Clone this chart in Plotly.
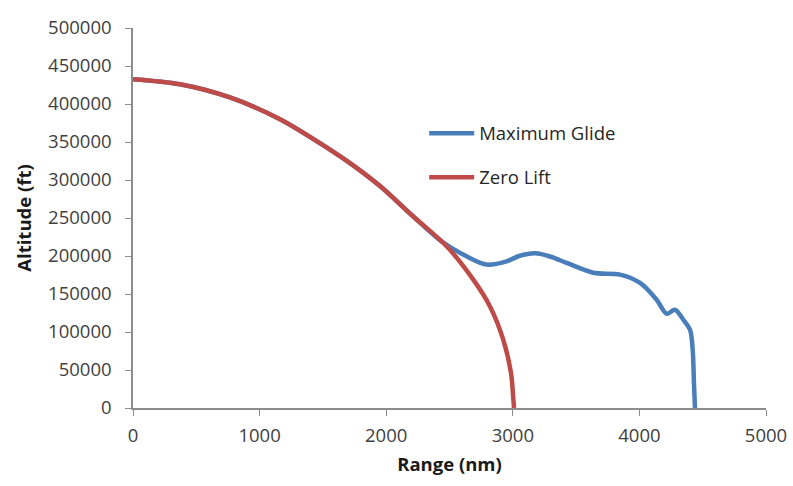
import plotly.graph_objects as go

# Zero-lift trajectory: range (nm) vs altitude (ft)
zero_lift_range = [0, 371, 766, 1161, 1556, 1750, 1951, 2214, 2477, 2688, 2820, 2925, 2986, 3004, 3010]
zero_lift_alt = [432700, 426000, 408600, 380000, 340000, 318000, 292000, 252000, 212800, 168900, 133600, 89700, 45800, 12000, 0]

# Maximum-glide trajectory
max_glide_range = [0, 371, 766, 1161, 1556, 1750, 1951, 2214, 2440, 2635, 2793, 2951, 3050, 3180, 3300, 3425, 3636, 3847, 4005, 4136, 4215, 4281, 4347, 4400, 4421, 4431, 4439]
max_glide_alt = [432700, 426000, 408600, 380000, 340000, 318000, 292000, 252000, 219000, 199600, 188700, 193000, 200000, 203500, 199000, 191000, 178000, 175500, 164500, 142500, 124000, 129300, 116100, 102900, 76500, 32600, 0]

x_ticks = [0, 1000, 2000, 3000, 4000, 5000]
y_ticks = [0, 50000, 100000, 150000, 200000, 250000, 300000, 350000, 400000, 450000, 500000]

FONT = "Open Sans, Liberation Sans, sans-serif"

fig = go.Figure()
fig.add_trace(go.Scatter(
    x=max_glide_range, y=max_glide_alt, mode="lines", name="Maximum Glide",
    legendgroup="a",
    line=dict(color="#4A7EBB", width=4.5, shape="spline", smoothing=0.9),
))
fig.add_trace(go.Scatter(
    x=zero_lift_range, y=zero_lift_alt, mode="lines", name="Zero Lift",
    legendgroup="b",
    line=dict(color="#BE4B48", width=4.5, shape="spline", smoothing=0.9),
))

tick_font = dict(family=FONT, size=18.5, color="#404040")
title_font = dict(family=FONT, size=18.5, color="#1a1a1a")

fig.update_layout(
    width=793, height=486,
    margin=dict(l=133, r=27, t=28, b=78),
    paper_bgcolor="white", plot_bgcolor="white",
    showlegend=True,
    legend=dict(
        x=0.46, y=0.772, xanchor="left", yanchor="top",
        bgcolor="rgba(0,0,0,0)", tracegroupgap=17, itemwidth=45,
        font=dict(family=FONT, size=18.5, color="#262626"),
    ),
    xaxis=dict(
        range=[0, 5000], tickvals=x_ticks, ticktext=[str(v) for v in x_ticks],
        showgrid=False, zeroline=False, showline=True, linecolor="#8C8C8C", linewidth=1.5,
        ticks="outside", ticklen=6, tickcolor="#8C8C8C", tickfont=tick_font,
        ticklabelstandoff=4, automargin=False,
        title=dict(text="<b>Range (nm)</b>", font=title_font, standoff=12),
    ),
    yaxis=dict(
        range=[0, 500000], tickvals=y_ticks, ticktext=[str(v) for v in y_ticks],
        showgrid=False, zeroline=False, showline=True, linecolor="#8C8C8C", linewidth=1.5,
        ticks="outside", ticklen=6, tickcolor="#8C8C8C", tickfont=tick_font,
        ticklabelstandoff=10, automargin=False,
        title=dict(text="<b>Altitude (ft)</b>", font=title_font, standoff=12),
    ),
)

fig.write_html("out.html")
